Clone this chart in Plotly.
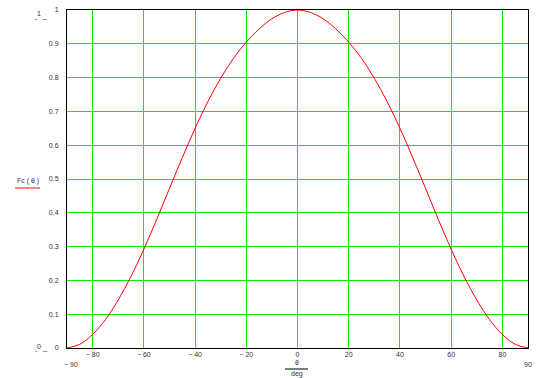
import plotly.graph_objects as go

# data
theta_deg = [-90, -85, -80, -75, -70, -65, -60, -55, -50, -45, -40, -35, -30, -25, -20, -15, -10, -5,
             0, 5, 10, 15, 20, 25, 30, 35, 40, 45, 50, 55, 60, 65, 70, 75, 80, 85, 90]
fc_half = [0.000, 0.011, 0.040, 0.084, 0.142, 0.212, 0.292, 0.380, 0.472, 0.563, 0.650, 0.729,
           0.798, 0.857, 0.905, 0.944, 0.974, 0.993]
fc_values = fc_half + [1.000] + fc_half[::-1]

x_tickvals = [-80, -60, -40, -20, 0, 20, 40, 60, 80]
x_ticktext = ["\u2212 80", "\u2212 60", "\u2212 40", "\u2212 20", "0", "20", "40", "60", "80"]
y_tickvals = [0, 0.1, 0.2, 0.3, 0.4, 0.5, 0.6, 0.7, 0.8, 0.9, 1]
y_ticktext = ["0", "0.1", "0.2", "0.3", "0.4", "0.5", "0.6", "0.7", "0.8", "0.9", "1"]

W, H = 552, 378
L, R, T, B = 67, 24, 10, 30
PW, PH = W - L - R, H - T - B

font = dict(family="Liberation Sans, Arial, sans-serif", size=7, color="#333333")
green = "#00ee00"

fig = go.Figure()
fig.add_trace(go.Scatter(x=theta_deg, y=fc_values, mode="lines",
                         line=dict(color="#ff0000", width=1, shape="spline", smoothing=1.0),
                         hoverinfo="skip", showlegend=False))

fig.update_layout(
    width=W, height=H,
    margin=dict(l=L, r=R, t=T, b=B, pad=0, autoexpand=False),
    paper_bgcolor="white", plot_bgcolor="white",
    font=font,
    showlegend=False,
    xaxis=dict(range=[-90, 90], tickvals=x_tickvals, ticktext=x_ticktext,
               showgrid=True, gridcolor=green, gridwidth=1, zeroline=False,
               showline=True, linecolor="black", linewidth=1, mirror=True,
               ticks="", tickfont=font, ticklabelstandoff=0),
    yaxis=dict(range=[0, 1], tickvals=y_tickvals, ticktext=y_ticktext,
               showgrid=True, gridcolor=green, gridwidth=1, zeroline=False,
               showline=True, linecolor="black", linewidth=1, mirror=True,
               ticks="", tickfont=font, ticklabelstandoff=6),
)

def px(x):
    return (x - L) / PW

def py(y):
    return 1 - (y - T) / PH

def ann(text, x, y, xanchor="center", yanchor="middle", size=7):
    fig.add_annotation(text=text, x=px(x), y=py(y), xref="paper", yref="paper",
                       xanchor=xanchor, yanchor=yanchor, showarrow=False,
                       font=dict(family=font["family"], size=size, color="#333333"))

# axis end labels
ann("\u2212 90", 71, 364)
ann("90", 528, 364)
# x axis label (fraction)
ann("\u03b8", 297, 363)
ann("deg", 297, 374)
fig.add_shape(type="line", xref="paper", yref="paper",
              x0=px(285), x1=px(308), y0=py(369), y1=py(369),
              line=dict(color="black", width=1))
# y axis label with trace marker
ann("Fc ( \u03b8 )", 28, 181)
fig.add_shape(type="line", xref="paper", yref="paper",
              x0=px(15), x1=px(40), y0=py(188), y1=py(188),
              line=dict(color="#ff0000", width=1))
# y-limit markers
ann("1", 39, 14)
ann("-", 36, 18)
ann("_", 44, 16)
ann("0", 39, 346)
ann("-", 36, 350)
ann("_", 44, 348)

fig.write_html("out.html", config={"displayModeBar": False},
               post_script="document.body.style.margin='0';")
